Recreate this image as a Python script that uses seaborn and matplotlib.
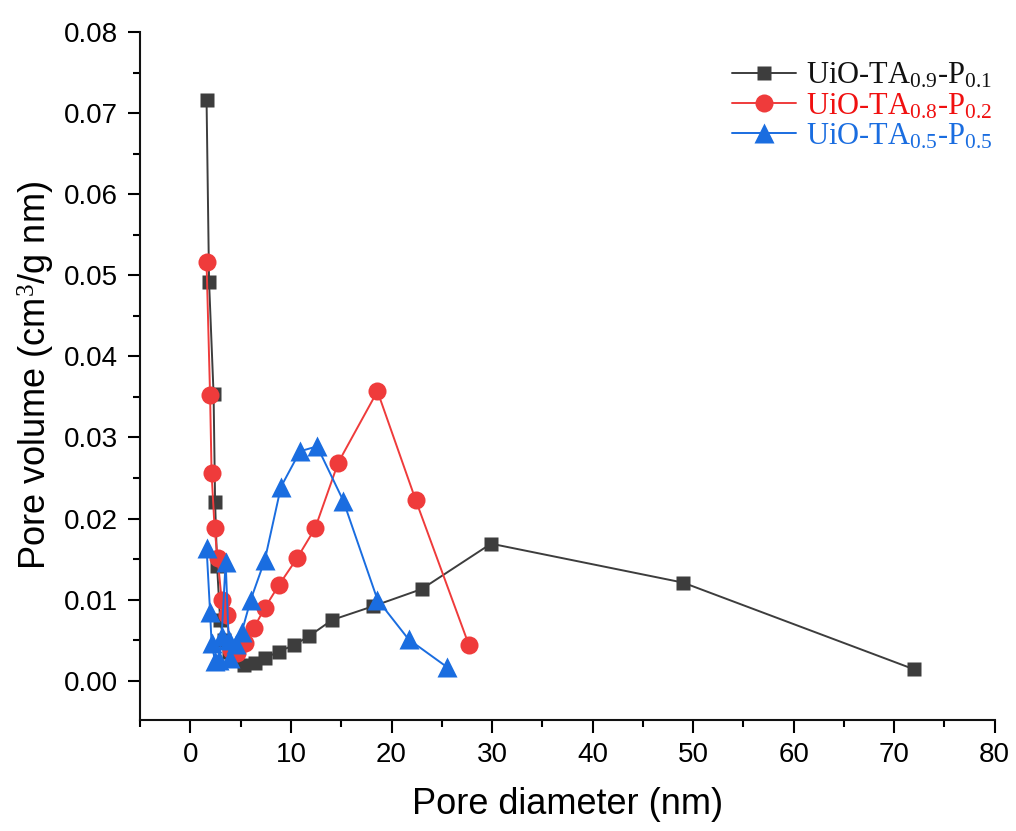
"""
Pore size distribution of UiO-TA-P samples.
"""

import matplotlib.pyplot as plt
import matplotlib.ticker as mticker
import seaborn as sns
import numpy as np
import pandas as pd

sns.set_style("ticks")
plt.rcParams['font.family'] = ['Liberation Sans', 'DejaVu Sans']
plt.rcParams['mathtext.fontset'] = 'custom'
plt.rcParams['mathtext.rm'] = 'Liberation Serif'
plt.rcParams['mathtext.it'] = 'Liberation Serif'
plt.rcParams['text.color'] = 'black'
plt.rcParams['axes.labelcolor'] = 'black'
plt.rcParams['xtick.color'] = 'black'
plt.rcParams['ytick.color'] = 'black'

# Data
labels = ['UiO-TA$_{0.9}$-P$_{0.1}$',
          'UiO-TA$_{0.8}$-P$_{0.2}$',
          'UiO-TA$_{0.5}$-P$_{0.5}$']
colors = ['#3d3d3d', '#ef3b3b', '#1a6de0']
text_colors = ['#111111', '#f01010', '#1a6de0']
markers = ['s', 'o', '^']
marker_sizes = [10.5, 13, 14.5]

x_09 = [1.6, 1.85, 2.3, 2.45, 2.65, 2.95, 3.3, 3.8, 4.4, 5.3, 6.4, 7.4,
        8.8, 10.3, 11.8, 14.1, 18.2, 23.0, 29.9, 49.0, 72.0]
y_09 = [0.0716, 0.0492, 0.0353, 0.0221, 0.0141, 0.0075, 0.0050, 0.0035,
        0.0025, 0.0020, 0.0022, 0.0028, 0.0036, 0.0044, 0.0055, 0.0075,
        0.0092, 0.0113, 0.0169, 0.0121, 0.0014]

x_08 = [1.6, 1.95, 2.1, 2.4, 2.7, 3.1, 3.6, 4.0, 4.6, 5.4, 6.3, 7.4,
        8.8, 10.6, 12.4, 14.7, 18.6, 22.4, 27.7]
y_08 = [0.0516, 0.0352, 0.0256, 0.0188, 0.0151, 0.0100, 0.0081, 0.0038,
        0.0034, 0.0046, 0.0065, 0.0090, 0.0118, 0.0151, 0.0188, 0.0269,
        0.0357, 0.0223, 0.0044]

x_05 = [1.6, 1.95, 2.1, 2.45, 2.8, 3.1, 3.5, 3.8, 3.95, 4.5, 5.1, 6.0,
        7.4, 9.0, 10.9, 12.6, 15.2, 18.6, 21.7, 25.5]
y_05 = [0.0164, 0.0085, 0.0046, 0.0024, 0.0026, 0.0055, 0.0147, 0.0050,
        0.0028, 0.0045, 0.0060, 0.0100, 0.0149, 0.0239, 0.0283, 0.0289,
        0.0222, 0.0100, 0.0051, 0.0017]

series = [(x_09, y_09), (x_08, y_08), (x_05, y_05)]

fig = plt.figure(figsize=(10.16, 8.31), dpi=100)
ax = fig.add_axes([0.138, 0.134, 0.841, 0.8275])

for (xs, ys), lab, c, m, ms in zip(series, labels, colors, markers, marker_sizes):
    df = pd.DataFrame({'d': xs, 'v': ys})
    sns.lineplot(data=df, x='d', y='v', ax=ax, sort=False, color=c,
                 marker=m, markersize=ms, markeredgecolor='none',
                 linewidth=1.4, label=lab)

ax.set_xlim(-5, 80)
ax.set_ylim(-0.0048, 0.08)
ax.xaxis.set_major_locator(mticker.MultipleLocator(10))
ax.xaxis.set_minor_locator(mticker.MultipleLocator(5))
ax.yaxis.set_major_locator(mticker.MultipleLocator(0.01))
ax.yaxis.set_minor_locator(mticker.MultipleLocator(0.005))
ax.yaxis.set_major_formatter(mticker.FormatStrFormatter('%.2f'))
ax.set_xticks(np.arange(0, 81, 10))

ax.tick_params(axis='both', which='major', length=9, width=1.5,
               direction='out', labelsize=20, pad=7)
ax.tick_params(axis='both', which='minor', length=5, width=1.5,
               direction='out')
for s in ['left', 'bottom']:
    ax.spines[s].set_linewidth(1.5)
    ax.spines[s].set_color('#111111')
sns.despine(ax=ax)

ax.set_xlabel('Pore diameter (nm)', fontsize=26, labelpad=14)
ax.set_ylabel('Pore volume (cm$^3$/g nm)', fontsize=26, labelpad=5)

leg = ax.legend(loc='upper right', bbox_to_anchor=(1.012, 0.975), frameon=False,
                fontsize=22, handlelength=2.1, handletextpad=0.35,
                labelspacing=0.02, borderaxespad=0.0)
for txt, c in zip(leg.get_texts(), text_colors):
    txt.set_color(c)
    txt.set_fontfamily('Liberation Serif')

plt.savefig('out.png', dpi=100)
plt.close()
